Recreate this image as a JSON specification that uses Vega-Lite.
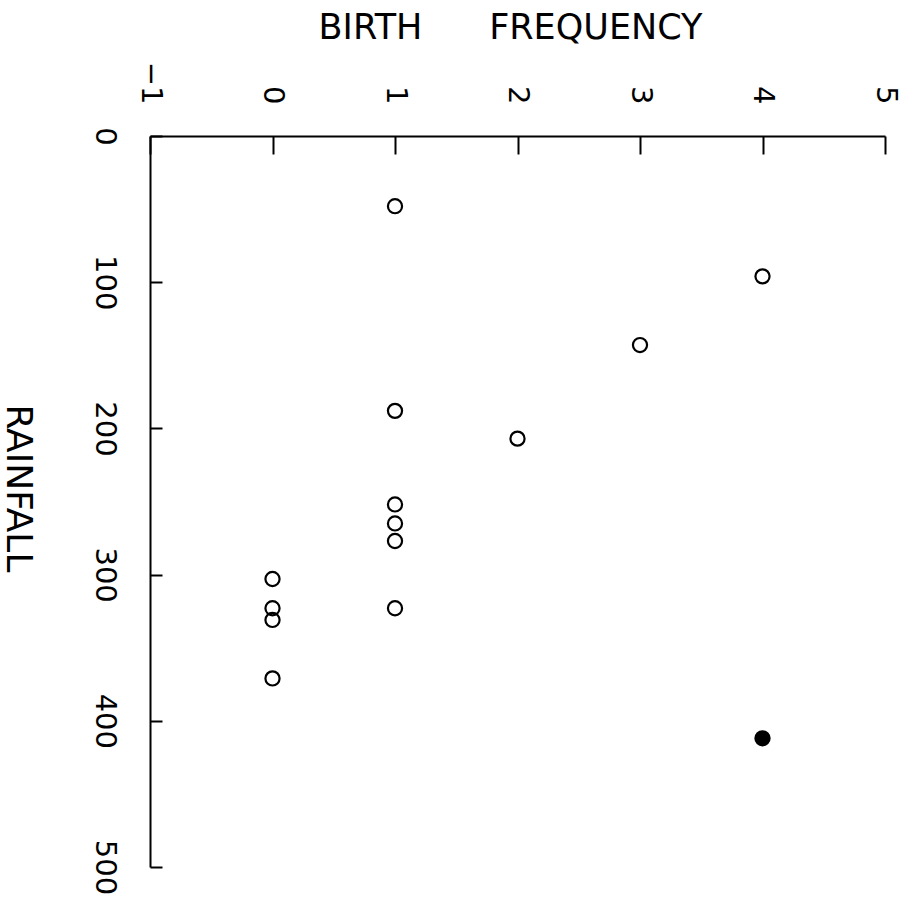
{
  "$schema": "https://vega.github.io/schema/vega-lite/v6.json",
  "width": 735,
  "height": 731,
  "autosize": {"type": "none"},
  "padding": {"left": 150, "top": 136, "right": 26, "bottom": 30},
  "background": "white",
  "config": {"view": {"stroke": null}, "font": "DejaVu Sans"},
  "data": {
    "values": [
      {"birth_frequency": 1, "rainfall": 48, "type": "open"},
      {"birth_frequency": 4, "rainfall": 96, "type": "open"},
      {"birth_frequency": 3, "rainfall": 143, "type": "open"},
      {"birth_frequency": 1, "rainfall": 188, "type": "open"},
      {"birth_frequency": 2, "rainfall": 207, "type": "open"},
      {"birth_frequency": 1, "rainfall": 252, "type": "open"},
      {"birth_frequency": 1, "rainfall": 265, "type": "open"},
      {"birth_frequency": 1, "rainfall": 277, "type": "open"},
      {"birth_frequency": 1, "rainfall": 323, "type": "open"},
      {"birth_frequency": 0, "rainfall": 303, "type": "open"},
      {"birth_frequency": 0, "rainfall": 323, "type": "open"},
      {"birth_frequency": 0, "rainfall": 331, "type": "open"},
      {"birth_frequency": 0, "rainfall": 371, "type": "open"},
      {"birth_frequency": 4, "rainfall": 412, "type": "filled"}
    ]
  },
  "mark": {"type": "point", "shape": "circle", "size": 200, "strokeWidth": 2.2, "opacity": 1, "filled": false},
  "encoding": {
    "x": {
      "field": "birth_frequency",
      "type": "quantitative",
      "scale": {"domain": [-1, 5], "nice": false, "zero": false},
      "axis": {
        "orient": "top",
        "values": [-1, 0, 1, 2, 3, 4, 5],
        "grid": false,
        "domainColor": "black",
        "domainWidth": 2,
        "tickColor": "black",
        "tickWidth": 2,
        "tickSize": -18,
        "labelAngle": 90,
        "labelAlign": "right",
        "labelBaseline": "middle",
        "labelPadding": 50,
        "labelFontSize": 29,
        "labelColor": "black",
        "labelFont": "DejaVu Sans",
        "labelFlush": false,
        "labelOverlap": false,
        "title": "BIRTH \u00a0\u00a0\u00a0\u00a0\u00a0FREQUENCY",
        "titleFont": "DejaVu Sans",
        "titleFontSize": 35,
        "titleFontWeight": "normal",
        "titleColor": "black",
        "titleX": 360,
        "titleY": -109,
        "titleAngle": 0,
        "titleAlign": "center",
        "titleBaseline": "middle"
      }
    },
    "y": {
      "field": "rainfall",
      "type": "quantitative",
      "scale": {"domain": [0, 500], "reverse": true, "nice": false, "zero": false},
      "axis": {
        "orient": "left",
        "values": [0, 100, 200, 300, 400, 500],
        "grid": false,
        "domainColor": "black",
        "domainWidth": 2,
        "tickColor": "black",
        "tickWidth": 2,
        "tickSize": -12,
        "labelAngle": 90,
        "labelAlign": "center",
        "labelBaseline": "middle",
        "labelPadding": 58,
        "labelFontSize": 29,
        "labelColor": "black",
        "labelFont": "DejaVu Sans",
        "labelFlush": false,
        "labelOverlap": false,
        "title": "RAINFALL",
        "titleFont": "DejaVu Sans",
        "titleFontSize": 36,
        "titleFontWeight": "normal",
        "titleColor": "black",
        "titleX": -133,
        "titleY": 352,
        "titleAngle": 90,
        "titleAlign": "center",
        "titleBaseline": "middle"
      }
    },
    "stroke": {"value": "black"},
    "fill": {
      "field": "type",
      "type": "nominal",
      "scale": {"domain": ["open", "filled"], "range": ["transparent", "black"]},
      "legend": null
    }
  }
}
